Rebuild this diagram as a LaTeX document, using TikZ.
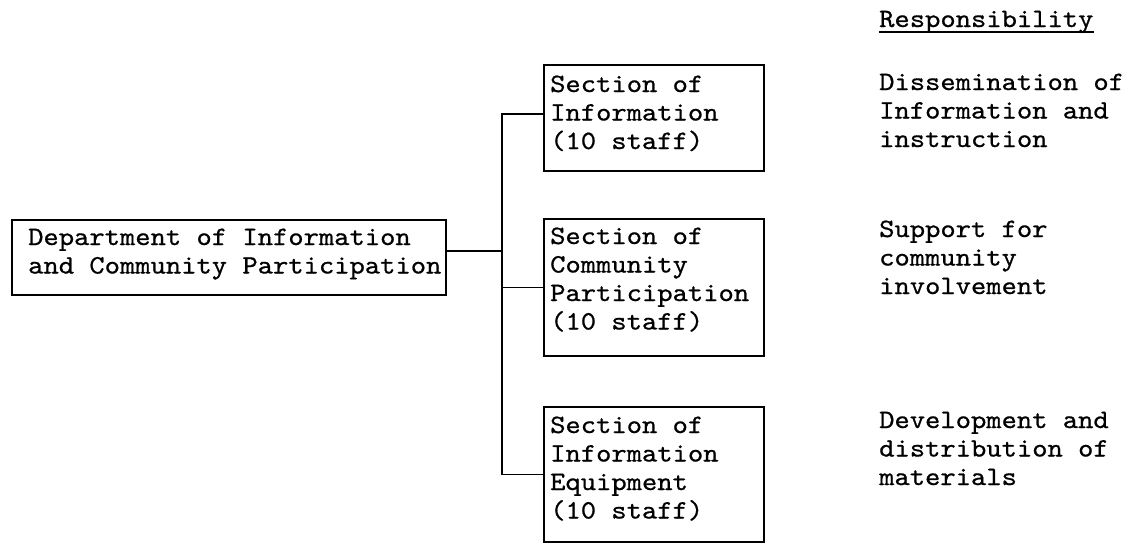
\documentclass[tikz,border=0pt]{standalone}
\usepackage{fontspec}
\newfontfamily\tw{lmmono10-regular.otf}[FakeStretch=1.1, FakeBold=0.7]
\newcommand\stk[1]{\vtop{\halign{##\hfil\cr#1\crcr}}}
\tikzset{
  box/.style={draw, line width=1.8pt, inner sep=0pt, anchor=north west},
  txt/.style={inner sep=0pt, anchor=base west, font=\tw\fontsize{26.5}{28.5}\selectfont},
  conn/.style={line width=1.8pt},
}
\begin{document}
\begin{tikzpicture}[x=1pt,y=-1pt]
\useasboundingbox (0,0) rectangle (1138,544);
% boxes
\node[box, minimum width=434pt, minimum height=75pt] (main) at (11,219) {};
\node[box, minimum width=220pt, minimum height=106pt] (b1) at (543,64) {};
\node[box, minimum width=220pt, minimum height=137pt] (b2) at (543,218) {};
\node[box, minimum width=220pt, minimum height=135pt] (b3) at (543,406) {};
% box texts
\node[txt] (tmain) at (28,245) {\stk{Department of Information\cr and Community Participation}};
\node[txt] (t1) at (550,92) {\stk{Section of\cr Information\cr (10 staff)}};
\node[txt] (t2) at (550,244) {\stk{Section of\cr Community\cr Participation\cr (10 staff)}};
\node[txt] (t3) at (550,433) {\stk{Section of\cr Information\cr Equipment\cr (10 staff)}};
% responsibility column
\node[txt] (resp) at (879,27) {Responsibility};
\draw[line width=1.2pt] ([yshift=-5pt]resp.base west) -- ([yshift=-5pt]resp.base east);
\node[txt] (r1) at (879,90) {\stk{Dissemination of\cr Information and\cr instruction}};
\node[txt] (r2) at (879,237) {\stk{Support for\cr community\cr involvement}};
\node[txt] (r3) at (879,428) {\stk{Development and\cr distribution of\cr materials}};
% connectors
\coordinate (tr) at (502,0);
\draw[conn] ([yshift=6.5pt]main.east) -- ([yshift=6.5pt]main.east -| tr);
\draw[conn] ([yshift=4pt]b1.west) -- ([yshift=4pt]b1.west -| tr) -- (b3.west -| tr) -- (b3.west);
\draw[conn] (b2.west -| tr) -- (b2.west);
\end{tikzpicture}
\end{document}
